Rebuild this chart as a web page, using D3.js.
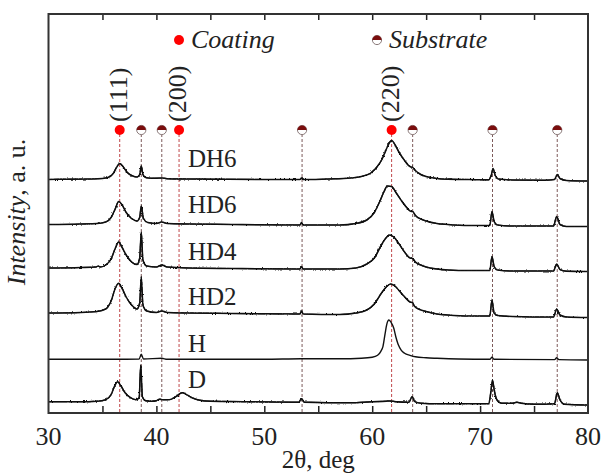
<!DOCTYPE html>
<html lang="en">
<head>
<meta charset="utf-8">
<title>XRD patterns</title>
<script src="https://d3js.org/d3.v7.min.js"></script>
<style>
  body { margin: 0; background: #fff; }
  svg text { font-family: "Liberation Serif", "DejaVu Serif", serif; fill: #222; }
</style>
</head>
<body>
<script>
var width = 608, height = 474;
var margin = {top: 14, right: 20, bottom: 61, left: 48.5};

// sample names, bottom to top offset (a.u.)
var samples = ["DH6", "HD6", "HD4", "HD2", "H", "D"];
var offsets = [233.5, 188.5, 145, 100, 53.7, 11.3];

// [2theta, intensity]
var dh6 = [[30,0],[32,0.3],[34,0.5],[35,1],[35.5,2],[36,6],[36.3,12],[36.6,16],[36.9,13],[37.3,7],[37.8,3.5],[38.2,2.5],[38.45,5],[38.6,13.5],[38.75,5],[39,2],[39.5,1.2],[40.5,1.5],[41,0.8],[43,0.5],[45,0.3],[50,0],[53.3,0],[53.45,1.5],[53.6,0],[56,0.5],[58,1.5],[59,3],[59.8,6],[60.4,12],[60.9,20],[61.3,30],[61.6,37],[61.8,39],[62.1,35],[62.5,27],[63,19],[63.5,13],[63.75,12],[64,9],[64.5,5],[65,3],[66,1],[67,0.3],[69,0],[70.8,-0.3],[71.05,5],[71.2,11],[71.4,4],[71.7,0.5],[73,-0.5],[76,-0.8],[76.9,0],[77.15,5],[77.4,1],[78,-1],[80,-1.5]];
var hd6 = [[30,0],[33,0.5],[34.5,1],[35.3,2.5],[35.8,7],[36.2,16],[36.5,23],[36.8,20],[37.2,12],[37.7,6],[38.2,3.5],[38.45,7],[38.6,18.5],[38.8,6],[39.2,2],[40,1],[40.5,2.5],[41,1],[43,0.5],[47,0],[53.3,-0.5],[53.45,2],[53.6,-0.5],[57,-0.5],[58.5,1],[59.5,4.5],[60.2,12],[60.7,23],[61.1,33],[61.4,38.5],[61.8,38],[62.2,32],[62.7,24],[63.2,17],[63.6,13],[63.75,13],[64,9],[64.5,5.5],[65,3.5],[66,1],[67,0],[69,-1],[70.9,-1],[71.1,13],[71.3,3],[71.6,-0.5],[73,-1.5],[76.8,-1.5],[77.1,8],[77.4,0],[78,-2],[80,-2]];
var hd4 = [[30,0],[33,0.5],[34.4,1],[34.6,2],[34.8,1],[35.3,3],[35.8,9],[36.2,20],[36.5,26],[36.8,21],[37.2,13],[37.7,6],[38.2,3.5],[38.45,10],[38.6,36],[38.75,8],[39.1,2],[40,1],[40.5,3],[41,1],[43,0],[47,-0.5],[53.3,-1],[53.45,1.5],[53.6,-1],[57,-1],[58.5,0],[59.5,4],[60.2,10],[60.8,22],[61.2,29],[61.6,33],[62,31],[62.5,24],[63,16],[63.5,10],[63.75,9.5],[64,6],[64.5,3],[65,1],[66,-1],[67,-2],[69,-2.5],[70.9,-2.5],[71.1,11.5],[71.3,1.5],[71.6,-2],[73,-3],[76.8,-3],[77.1,4],[77.4,-1.5],[78,-3.2],[80,-3.5]];
var hd2 = [[30,0],[33,0.5],[34.5,1.5],[35.3,4],[35.8,12],[36.2,25],[36.5,29.7],[36.8,25],[37.2,16],[37.7,8],[38.2,4],[38.45,10],[38.6,36.3],[38.75,8],[39.1,2],[40,0.5],[40.5,2],[41,0.5],[43,0],[47,-0.5],[53.3,-1],[53.45,2],[53.6,-1],[57,-1.5],[58.5,0],[59.5,3],[60.2,9],[60.8,19],[61.3,26],[61.7,29],[62.1,27],[62.6,21],[63.1,15],[63.5,11],[63.75,10.3],[63.9,7],[64.4,3.5],[65,1.5],[66,-1],[67,-2],[69,-3],[70.9,-3],[71.1,13],[71.3,0],[71.6,-2.5],[73,-3.5],[76.8,-4],[77.1,4],[77.4,-2],[78,-4],[80,-4.5]];
var h = [[30,0],[36,0],[38.4,0.3],[38.6,5],[38.8,0.3],[40.5,1],[41,0],[50,0],[53.4,0.5],[57,0.5],[59,1],[60,2],[60.5,4],[60.8,8],[61.0,13],[61.2,26],[61.35,35],[61.55,39.3],[61.75,37],[62.0,31],[62.2,22],[62.4,15],[62.7,9],[63.0,6],[63.5,4],[64,2.5],[65,1.5],[66,1],[68,0.3],[70.9,0],[71.1,2],[71.3,0],[76.9,-0.3],[77.1,1.5],[77.3,-0.3],[80,-0.7]];
var d = [[30,0],[33,0],[34.5,0.5],[35.3,2],[35.8,7],[36.1,15],[36.4,20],[36.7,16],[37.1,9],[37.6,4],[38.1,2],[38.4,4],[38.55,36.7],[38.7,5],[39.0,1],[39.6,0.5],[40.0,1],[40.3,2.5],[40.6,2],[41.2,2],[41.8,5],[42.4,9],[42.8,7],[43.3,4],[44,1.5],[45,0.5],[48,0],[53.2,-0.5],[53.45,3],[53.7,-0.5],[58,-1],[60,0],[61.3,0.5],[61.6,0.8],[62.2,0],[63.4,-0.5],[63.7,5],[63.95,0],[64.5,-1.5],[66,-2],[70.8,-2],[71.0,10],[71.15,21.7],[71.3,12],[71.55,2],[72,-1.5],[73,-1.5],[73.4,-0.5],[73.8,-1.5],[75,-2.5],[76.9,-2],[77.15,9],[77.4,2],[77.8,-2.5],[80,-3.3]];
var patterns = [dh6, hd6, hd4, hd2, h, d];

// reflection positions
var coatingPeaks = [36.6, 42.1, 61.8];
var substratePeaks = [38.6, 40.5, 53.5, 63.75, 71.15, 77.15];
var hklLabels = ["(111)", "(200)", "(220)"];
var xTicks = [30, 40, 50, 60, 70, 80];

var x = d3.scaleLinear().domain([30, 80]).range([margin.left, width - margin.right]);
var y = d3.scaleLinear().domain([0, 400]).range([height - margin.bottom, height - margin.bottom - 400]);
var yTop = margin.top, yBot = height - margin.bottom;

var svg = d3.select("body").append("svg")
    .attr("width", width)
    .attr("height", height);

var defs = svg.append("defs");
defs.append("clipPath").attr("id", "plot")
  .append("rect")
    .attr("x", x(30)).attr("y", yTop)
    .attr("width", x(80) - x(30)).attr("height", yBot - yTop);

// slight roughness so the traces look like counting data
var f = defs.append("filter").attr("id", "rough")
    .attr("x", "-2%").attr("y", "-10%").attr("width", "104%").attr("height", "120%");
f.append("feTurbulence").attr("type", "fractalNoise").attr("baseFrequency", "0.8 0.5")
    .attr("numOctaves", 1).attr("seed", 3).attr("result", "n");
f.append("feDisplacementMap").attr("in", "SourceGraphic").attr("in2", "n")
    .attr("scale", 3).attr("xChannelSelector", "R").attr("yChannelSelector", "G");

// reference lines
var refs = svg.append("g");
refs.selectAll(".cl").data(coatingPeaks).enter().append("line")
    .attr("x1", x).attr("x2", x)
    .attr("y1", 134).attr("y2", yBot)
    .style("stroke", "#c0474b").style("stroke-width", 1)
    .style("stroke-dasharray", "3,2");
refs.selectAll(".sl").data(substratePeaks).enter().append("line")
    .attr("x1", x).attr("x2", x)
    .attr("y1", 134).attr("y2", yBot)
    .style("stroke", "#7d5a5a").style("stroke-width", 1)
    .style("stroke-dasharray", "3,2");

// traces: a smooth core plus a roughened copy on top
var line = d3.line()
    .x(function(p) { return x(p[0]); })
    .curve(d3.curveMonotoneX);
function tracePath(pts, i) {
  return line.y(function(p) { return y(p[1] + offsets[i]); })(pts);
}

var traces = svg.append("g").attr("clip-path", "url(#plot)");
traces.selectAll(".core").data(patterns).enter().append("path")
    .attr("class", "core")
    .attr("d", tracePath)
    .style("fill", "none")
    .style("stroke", "#111")
    .style("stroke-width", function(pts, i) { return i == 4 ? 1.4 : 1.5; })
    .style("stroke-linejoin", "round");
traces.selectAll(".fuzz").data(patterns).enter().append("path")
    .attr("class", "fuzz")
    .attr("d", tracePath)
    .attr("filter", "url(#rough)")
    .style("display", function(pts, i) { return i == 4 ? "none" : null; })
    .style("fill", "none")
    .style("stroke", "#111")
    .style("stroke-width", 1.2);

// sample labels
var labelY = [167, 213, 260, 305, 352, 388];
svg.selectAll(".name").data(samples).enter().append("text")
    .attr("x", 188)
    .attr("y", function(s, i) { return labelY[i]; })
    .style("font-size", "25px")
    .text(function(s) { return s; });

// markers
function substrateMarker(g, cx, cy, r) {
  g.append("circle").attr("cx", cx).attr("cy", cy).attr("r", r)
    .style("fill", "#fff").style("stroke", "#8a7a7a").style("stroke-width", 1);
  g.append("path")
    .attr("d", "M" + (cx - r) + "," + cy + " A" + r + "," + r + " 0 0 1 " + (cx + r) + "," + cy + " Z")
    .style("fill", "#7a0d0d");
}
var mk = svg.append("g");
coatingPeaks.forEach(function(p) {
  mk.append("circle").attr("cx", x(p)).attr("cy", 130).attr("r", 5).style("fill", "#f00");
});
substratePeaks.forEach(function(p) {
  substrateMarker(mk, x(p), 130, 4.6);
});

// hkl labels
svg.selectAll(".hkl").data(hklLabels).enter().append("text")
    .attr("transform", function(s, i) {
      return "translate(" + (x(coatingPeaks[i]) + 7) + ",122) rotate(-90)";
    })
    .style("font-size", "26px")
    .text(function(s) { return s; });

// legend
mk.append("circle").attr("cx", 179).attr("cy", 40).attr("r", 5).style("fill", "#f00");
svg.append("text").attr("x", 191).attr("y", 48)
    .style("font-size", "26px").style("font-style", "italic").text("Coating");
substrateMarker(mk, 377, 40, 4.6);
svg.append("text").attr("x", 389).attr("y", 48)
    .style("font-size", "26px").style("font-style", "italic").text("Substrate");

// axes
svg.append("g")
    .attr("transform", "translate(0," + yBot + ")")
    .call(d3.axisBottom(x).tickValues(d3.range(35, 80, 5)).tickSizeInner(-7).tickSizeOuter(0).tickFormat(""))
    .call(function(g) { g.select(".domain").remove(); g.selectAll("line").style("stroke", "#222").style("stroke-width", 1.5); });
svg.append("g")
    .attr("transform", "translate(0," + yTop + ")")
    .call(d3.axisTop(x).tickValues(d3.range(35, 80, 5)).tickSizeInner(-6).tickSizeOuter(0).tickFormat(""))
    .call(function(g) { g.select(".domain").remove(); g.selectAll("line").style("stroke", "#222").style("stroke-width", 1.5); });

svg.selectAll(".xt").data(xTicks).enter().append("text")
    .attr("x", x).attr("y", 445)
    .attr("text-anchor", "middle")
    .style("font-size", "26px")
    .text(function(t) { return t; });

svg.append("rect")
    .attr("x", x(30)).attr("y", yTop)
    .attr("width", x(80) - x(30)).attr("height", yBot - yTop)
    .style("fill", "none").style("stroke", "#333").style("stroke-width", 2);

svg.append("text")
    .attr("x", (x(30) + x(80)) / 2).attr("y", 468)
    .attr("text-anchor", "middle")
    .style("font-size", "25px")
    .text("2θ, deg");

var yl = svg.append("text")
    .attr("transform", "translate(25,212) rotate(-90)")
    .attr("text-anchor", "middle")
    .style("font-size", "26px");
yl.append("tspan").style("font-style", "italic").text("Intensity");
yl.append("tspan").text(", a. u.");
</script>
</body>
</html>
